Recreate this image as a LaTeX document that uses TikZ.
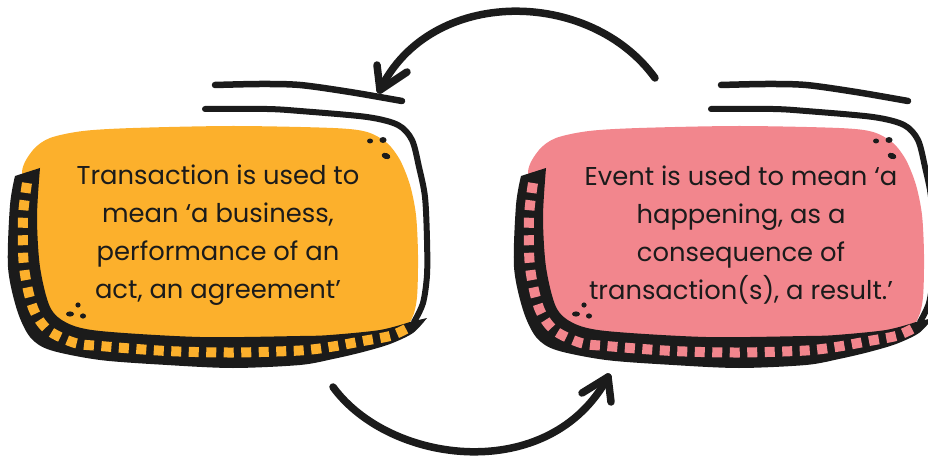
\documentclass[tikz,border=0pt]{standalone}
\usepackage{fontspec}
\setmainfont{Poppins}
\usetikzlibrary{arrows.meta}
\definecolor{orangefill}{HTML}{FCB02C}
\definecolor{pinkfill}{HTML}{F2868D}
\definecolor{ink}{HTML}{1B1B1B}
\newcommand\myblob[1]{%
  % face
  \fill[#1] plot[smooth cycle] coordinates {(30,210) (22,172) (33,150) (50,138) (83,131) (133,128) (233,126) (333,128) (367,132) (387,143) (400,160) (410,185) (416,215) (418,255) (417,297) (412,318) (400,328) (330,338) (200,340) (100,335) (50,320) (35,280)};
  % band
  \fill[ink] plot[smooth] coordinates {(15,176) (10,205) (8,267) (17,310) (30,337) (50,350) (100,360) (167,365) (233,368) (300,365) (333,359) (363,352) (390,344) (413,333) (427,318)}
     -- plot[smooth] coordinates {(410,322) (380,330) (330,335) (300,336) (200,337) (100,331) (67,323) (50,307) (40,267) (37,217) (40,168)} -- cycle;
  % windows in band
  \draw[#1, line width=10pt, dash pattern=on 10pt off 7.5pt] plot[smooth] coordinates {(27,183) (23,217) (24,267) (33,308) (48,330) (75,343) (100,346) (167,351) (233,352.5) (300,350.5) (333,346.5) (363,341) (390,336) (406,329)};
  % outline
  \draw[outl] plot[smooth] coordinates {(205,109) (267,109) (300,111) (367,117) (398,125) (412,140) (419,167) (425,197) (427,240) (427,275) (423,303) (414,322)};
  \draw[outl, line width=6.5pt] plot[smooth] coordinates {(215,85) (260,84) (300,85) (350,92) (402,101)};
  % dots
  \fill[ink] (370,141) ellipse [x radius=3pt, y radius=2.5pt];
  \fill[ink] (383,140) ellipse [x radius=3.5pt, y radius=3pt];
  \fill[ink,rotate around={-20:(386,156)}] (386,156) ellipse [x radius=4.5pt, y radius=3pt];
  \fill[ink] (78,305) ellipse [x radius=2.6pt, y radius=2.6pt];
  \fill[ink] (70,314) ellipse [x radius=4pt, y radius=2.6pt];
  \fill[ink] (83,316) ellipse [x radius=3pt, y radius=2.6pt];
}
\begin{document}
\begin{tikzpicture}[x=1pt,y=-1pt,
  outl/.style={ink, line width=6pt, line cap=round, line join=round},
  arr/.style={ink, line width=7.5pt, line cap=round},
  txt/.style={align=center, font=\fontsize{25.8}{37.8}\selectfont, inner sep=0pt, text=ink}]
\useasboundingbox (0,0) rectangle (928,462);
\myblob{orangefill}
\begin{scope}[xshift=506pt]
\myblob{pinkfill}
\end{scope}
\node[txt] (t1) at (218,235) {Transaction is used to\\mean ‘a business,\\performance of an\\act, an agreement’};
\node[txt] (t2) at (741,235) {Event is used to mean ‘a\\happening, as a\\consequence of\\transaction(s), a result.’};
% arrows
\coordinate (a1s) at (655,78);
\coordinate (a1e) at (380,90);
\draw[arr] (a1s) .. controls (590,-12) and (430,-14) .. (a1e);
\draw[arr] (a1e) -- +(-3,-25);
\draw[arr] (a1e) -- +(27,-18);
\coordinate (a2s) at (333,387);
\coordinate (a2e) at (608,377);
\draw[arr] (a2s) .. controls (390,465) and (550,485) .. (a2e);
\draw[arr] (a2e) -- +(-26,16);
\draw[arr] (a2e) -- +(3,25);
\end{tikzpicture}
\end{document}
